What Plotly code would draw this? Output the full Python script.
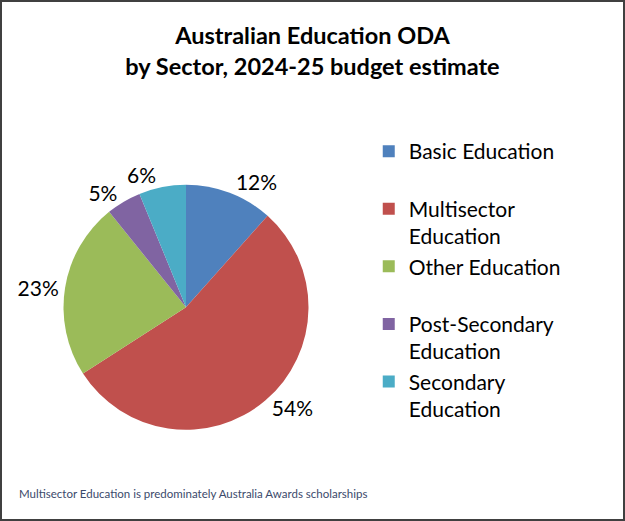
import plotly.graph_objects as go

categories = ["Basic Education<br> ", "Multisector<br>Education", "Other Education<br> ",
              "Post-Secondary<br>Education", "Secondary<br>Education"]
values = [11.6, 54.3, 23.3, 4.6, 6.2]
colors = ["#4F81BD", "#C0504D", "#9BBB59", "#8064A2", "#4BACC6"]

title_text = "<b>Australian Education ODA<br>by Sector, 2024-25 budget estimate</b>"
footnote = "Multisector Education is predominately Australia Awards scholarships"

FONT = "Lato, 'Open Sans', sans-serif"
PIE_DOMAIN = dict(x=[0.1016, 0.4936], y=[0.1747, 0.646])
LABEL_FONT = dict(size=21, color="#000000", family=FONT)

fig = go.Figure()
# main pie: all labels except the last (drawn by the overlay to avoid label pushing)
fig.add_trace(go.Pie(
    labels=categories,
    values=values,
    sort=False,
    direction="clockwise",
    rotation=0,
    marker=dict(colors=colors, line=dict(width=0)),
    texttemplate="%{percent:.0%}",
    textposition=["outside", "outside", "outside", "outside", "none"],
    textfont=LABEL_FONT,
    domain=PIE_DOMAIN,
    showlegend=True,
    hoverinfo="label+percent",
))
# overlay pie carrying only the last label
fig.add_trace(go.Pie(
    labels=categories,
    values=values,
    sort=False,
    direction="clockwise",
    rotation=0,
    marker=dict(colors=["rgba(0,0,0,0)"] * len(values), line=dict(width=0)),
    texttemplate="%{percent:.0%}",
    textposition=["none", "none", "none", "none", "outside"],
    textfont=LABEL_FONT,
    domain=PIE_DOMAIN,
    showlegend=False,
    hoverinfo="skip",
))

fig.update_layout(
    width=625, height=521,
    margin=dict(l=0, r=0, t=0, b=0),
    paper_bgcolor="white",
    plot_bgcolor="white",
    font=dict(family=FONT, color="#000000"),
    title=dict(text=title_text, x=0.5, xanchor="center", y=1 - 44 / 521, yanchor="top",
               font=dict(size=23.5, family=FONT, color="#000000")),
    legend=dict(x=0.59, y=1 - 131 / 521, xanchor="left", yanchor="top",
                font=dict(size=21, family=FONT, color="#000000"),
                valign="top", itemwidth=30, tracegroupgap=0,
                bgcolor="rgba(0,0,0,0)"),
    annotations=[dict(text=footnote, x=17 / 625, y=1 - 493 / 521, xref="paper", yref="paper",
                      xanchor="left", yanchor="middle", showarrow=False,
                      font=dict(size=11.5, family=FONT, color="#3B4A6B"))],
    shapes=[dict(type="rect", xref="paper", yref="paper", x0=0.0016, y0=0.002,
                 x1=0.9984, y1=0.998, line=dict(color="#404040", width=2))],
)

fig.write_html("out.html", post_script="document.body.style.margin='0';",
               config={"displayModeBar": False})
